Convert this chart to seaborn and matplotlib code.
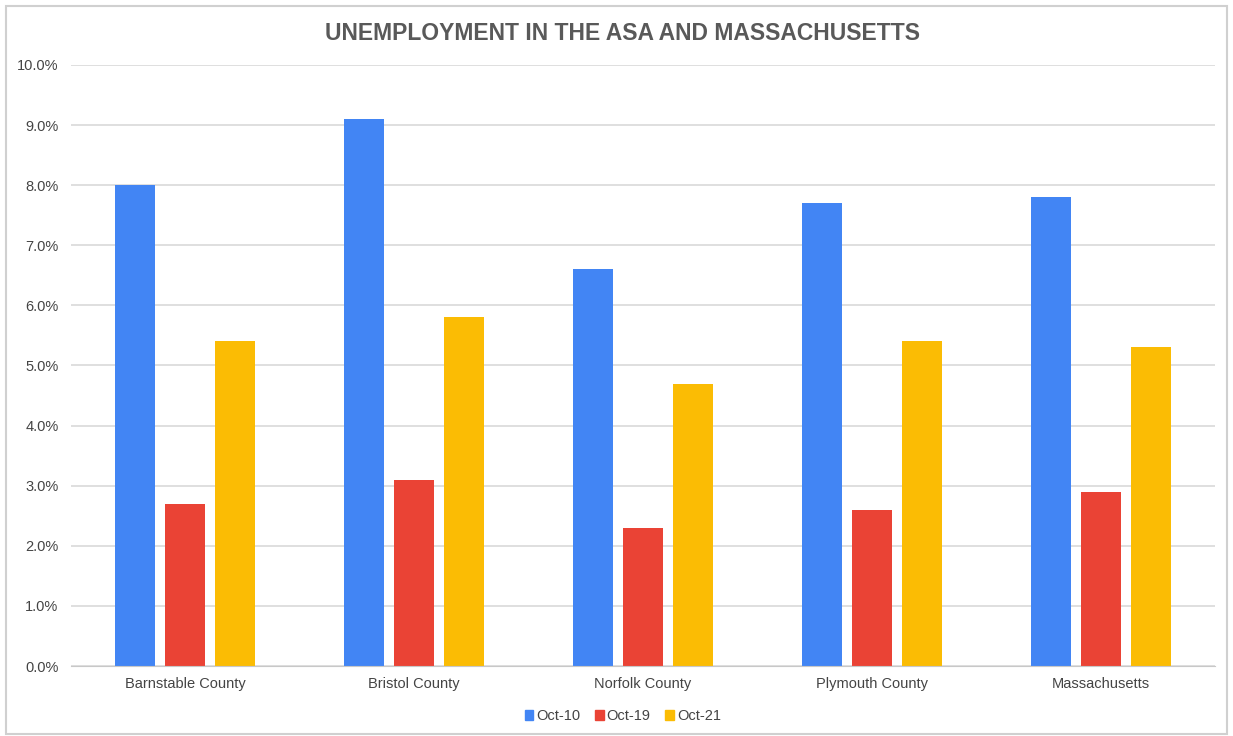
import pandas as pd
import matplotlib.pyplot as plt
import matplotlib.patches as mpatches
import seaborn as sns
from matplotlib.ticker import PercentFormatter

regioes = ['Barnstable County', 'Bristol County', 'Norfolk County', 'Plymouth County', 'Massachusetts']
periodos = ['Oct-10', 'Oct-19', 'Oct-21']
oct10 = [8.0, 9.1, 6.6, 7.7, 7.8]
oct19 = [2.7, 3.1, 2.3, 2.6, 2.9]
oct21 = [5.4, 5.8, 4.7, 5.4, 5.3]
cores = ['#4285F4', '#EA4335', '#FBBC04']

dados = pd.DataFrame({'regiao': regioes * 3,
                      'periodo': [p for p in periodos for _ in regioes],
                      'taxa': oct10 + oct19 + oct21})

sns.set_style("white")
plt.rcParams['font.family'] = ['Liberation Sans', 'DejaVu Sans']

fig = plt.figure(figsize=(12.33, 7.36), dpi=100)
ax = fig.add_axes([0.0576, 0.0951, 0.9278, 0.8166])

sns.barplot(data=dados, x='regiao', y='taxa', hue='periodo', palette=cores,
            width=0.656, gap=0.2, ax=ax, legend=False, saturation=1, linewidth=0)

ax.set_ylim(0, 10)
ax.set_yticks(range(0, 11))
ax.yaxis.set_major_formatter(PercentFormatter(decimals=1))
ax.grid(axis='y', color='#d9d9d9', linewidth=1.2)
ax.set_axisbelow(True)
for s in ['top', 'right', 'left']:
    ax.spines[s].set_visible(False)
ax.spines['bottom'].set_color('#c8c8c8')
ax.set_xlabel('')
ax.set_ylabel('')
ax.tick_params(axis='both', length=0, labelsize=10.5, colors='#444444', pad=8)
ax.tick_params(axis='y', pad=9)

fig.text(0.505, 0.955, 'UNEMPLOYMENT IN THE ASA AND MASSACHUSETTS', ha='center', va='center',
         fontsize=16.5, fontweight='bold', color='#595959')

# legenda com quadradinhos
handles = [mpatches.Patch(color=c, label=p) for c, p in zip(cores, periodos)]
fig.legend(handles=handles, loc='center', bbox_to_anchor=(0.505, 0.027), ncol=3, frameon=False,
           fontsize=10.5, handlelength=0.6, handleheight=0.6, handletextpad=0.2, columnspacing=1.0,
           labelcolor='#444444')

# moldura em volta da figura
fig.patches.append(mpatches.Rectangle((0.005, 0.003), 0.99, 0.989, transform=fig.transFigure,
                                      fill=False, edgecolor='#d0d0d0', linewidth=1.5))

plt.savefig('out.png', dpi=100)
